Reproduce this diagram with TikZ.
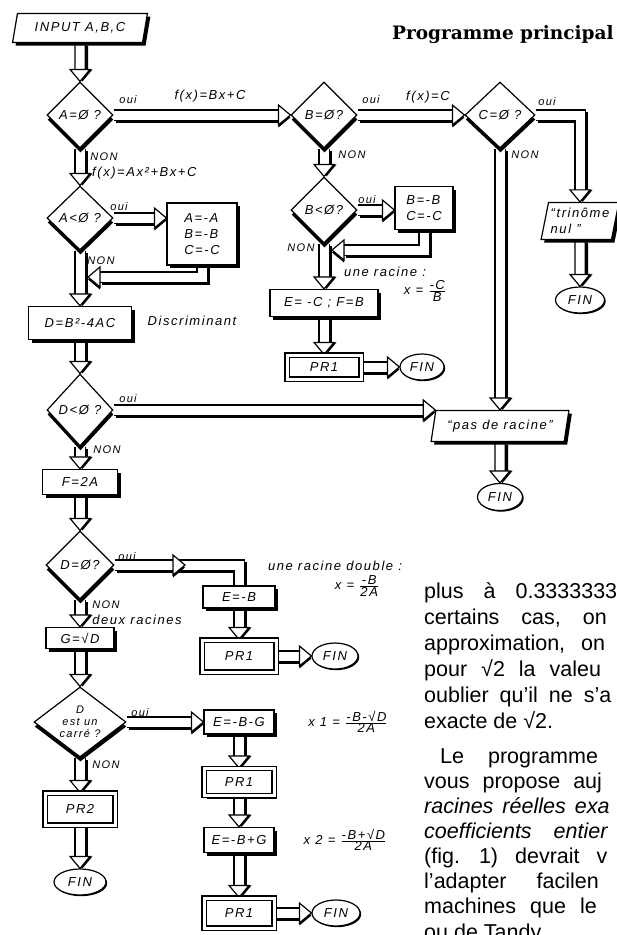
\documentclass[tikz,border=0pt]{standalone}
\usepackage{fontspec}
\newfontfamily\hand[LetterSpace=12]{Liberation Sans}
\newfontfamily\colfont{Liberation Sans}
\newfontfamily\titlefont{DejaVu Serif}
\usetikzlibrary{shapes.geometric,shadows,backgrounds}
% one justified line of the article, with its own word space
\newcommand\jline[2]{{\spaceskip=#1pt\relax #2}}

\tikzset{
  fig/.style={draw, line width=1.2pt, fill=white, font=\hand\itshape\fontsize{13}{16}\selectfont},
  box/.style={fig, inner sep=2pt, drop shadow={shadow xshift=3pt, shadow yshift=-3pt, opacity=1, fill=black}},
  sub/.style={box, double, double distance=3pt},
  test/.style={fig, diamond, inner sep=0pt, drop shadow={shadow xshift=0.5pt, shadow yshift=-4.5pt, opacity=1, fill=black}},
  io/.style={fig, trapezium, trapezium left angle=76, trapezium right angle=104, trapezium stretches=true, inner sep=2pt,
    drop shadow={shadow xshift=3pt, shadow yshift=-3pt, opacity=1, fill=black}},
  fin/.style={fig, ellipse, inner sep=0pt, drop shadow={shadow xshift=1.2pt, shadow yshift=-1.2pt, opacity=1, fill=black}},
  note/.style={inner sep=0pt, font=\hand\itshape\fontsize{13}{16}\selectfont},
  yes/.style={inner sep=0pt, font=\hand\itshape\fontsize{11}{12}\selectfont},
  body/.style={anchor=base west, inner sep=0pt, font=\colfont\fontsize{21.5}{25}\selectfont},
  band/.style={line width=1.2pt, double=white, double distance=9pt, line join=miter,
    preaction={draw=black, double=black, double distance=9pt, line width=1.2pt, transform canvas={shift={(2.5pt,-2.5pt)}}}},
  arr/.style={shorten >=11pt},
  tipd/.pic={\fill (2.5pt,0pt) -- (-7.5pt,12pt) -- (12.5pt,12pt) -- cycle;
    \filldraw[fill=white, line width=1.2pt, line join=miter] (0,0) -- (-10pt,12pt) -- (10pt,12pt) -- cycle;},
  tipr/.pic={\fill (0pt,-2.5pt) -- (-12pt,7.5pt) -- (-12pt,-12.5pt) -- cycle;
    \filldraw[fill=white, line width=1.2pt, line join=miter] (0,0) -- (-12pt,10pt) -- (-12pt,-10pt) -- cycle;},
  tipl/.pic={\fill (0pt,-2.5pt) -- (12pt,7.5pt) -- (12pt,-12.5pt) -- cycle;
    \filldraw[fill=white, line width=1.2pt, line join=miter] (0,0) -- (12pt,10pt) -- (12pt,-10pt) -- cycle;}
}

\begin{document}
\begin{tikzpicture}[x=1pt,y=-1pt]
  \useasboundingbox (0,0) rectangle (617,935);
  \node[anchor=base west, inner sep=0pt, font=\titlefont\bfseries\fontsize{18.5}{22}\selectfont] (title) at (392,39) {Programme principal};

  % main column
  \node[io, minimum width=135, minimum height=29] (in) at (80,28) {INPUT A,B,C};
  \node[test, minimum width=66, minimum height=66] (t1) at (80,115) {A=Ø ?};
  \node[test, minimum width=66, minimum height=64] (t2) at (80,218) {A<Ø ?};
  \node[box, minimum width=70, minimum height=62, align=left] (ab) at (202,234) {A=-A\\B=-B\\C=-C};
  \node[box, minimum width=103, minimum height=33] (db) at (80,323) {D=B²-4AC};
  \node[note] (dn) at (192,321) {Discriminant};
  \node[test, minimum width=66, minimum height=72] (t3) at (80,410) {D<Ø ?};
  \node[box, minimum width=75, minimum height=25] (fb) at (80,482) {F=2A};
  \node[test, minimum width=68, minimum height=68] (t4) at (80,565) {D=Ø?};
  \node[box, minimum width=68, minimum height=21] (gb) at (80,638) {G=√D};
  \node[test, minimum width=92, minimum height=70, aspect=1.3, align=center, font=\hand\itshape\fontsize{11}{12}\selectfont] (t5) at (80,722) {D\\est un\\carré ?};
  \node[sub, minimum width=70, minimum height=32] (p2) at (80,809) {PR2};
  \node[fin, minimum width=52, minimum height=26] (f4) at (80,882) {FIN};

  % roots column
  \node[box, minimum width=72, minimum height=22] (eb) at (239,597) {E=-B};
  \node[sub, minimum width=74, minimum height=32] (p1) at (239,656) {PR1};
  \node[fin, minimum width=46, minimum height=26] (f2) at (335,656) {FIN};
  \node[box, minimum width=70, minimum height=24] (e1) at (239,722) {E=-B-G};
  \node[sub, minimum width=70, minimum height=27] (p3) at (239,782) {PR1};
  \node[box, minimum width=70, minimum height=25] (e2) at (239,840) {E=-B+G};
  \node[sub, minimum width=70, minimum height=30] (p4) at (239,913) {PR1};
  \node[fin, minimum width=48, minimum height=26] (f3) at (336,913) {FIN};

  % B column
  \node[test, minimum width=66, minimum height=66] (tb1) at (324,115) {B=Ø?};
  \node[test, minimum width=66, minimum height=66] (tb2) at (324,210) {B<Ø?};
  \node[box, minimum width=58, minimum height=43, align=left] (bb) at (424,208) {B=-B\\C=-C};
  \node[box, minimum width=108, minimum height=27] (ec) at (324,303) {E= -C ; F=B};
  \node[sub, minimum width=74, minimum height=24] (p5) at (324,367) {PR1};
  \node[fin, minimum width=44, minimum height=26] (f1) at (422,367) {FIN};

  % C column
  \node[test, minimum width=70, minimum height=66] (tc) at (500,115) {C=Ø ?};
  \node[io, minimum width=78, minimum height=37, align=left] (tn) at (580,221) {“trinôme\\nul ”};
  \node[fin, minimum width=49, minimum height=26] (f5) at (580,300) {FIN};
  \node[io, minimum width=138, minimum height=31] (pr) at (500,426) {“pas de racine”};
  \node[fin, minimum width=45, minimum height=27] (f6) at (500,497) {FIN};

  \coordinate (r1) at (88,277);
  \coordinate (r2) at (332,250);
  \coordinate (m4) at (185,565);

  % labels
  \node[yes] at (128,100) {oui};
  \node[note] at (210,96) {f(x)=Bx+C};
  \node[yes] at (104,157) {NON};
  \node[note, anchor=west] at (92,173) {f(x)=Ax²+Bx+C};
  \node[yes] at (119,207) {oui};
  \node[yes] at (101,261) {NON};
  \node[yes] at (128,399) {oui};
  \node[yes] at (107,450) {NON};
  \node[yes] at (127,557) {oui};
  \node[yes] at (106,605) {NON};
  \node[note] at (137,620) {deux racines};
  \node[note] at (335,566) {une racine double :};
  \node[note] at (357,586) {x = $\frac{\hbox{-B}}{\hbox{2A}}$};
  \node[yes] at (140,713) {oui};
  \node[yes] at (106,765) {NON};
  \node[note] at (348,722) {x 1 = $\frac{\hbox{-B-√D}}{\hbox{2A}}$};
  \node[note] at (345,840) {x 2 = $\frac{\hbox{-B+√D}}{\hbox{2A}}$};
  \node[yes] at (371,100) {oui};
  \node[note] at (428,97) {f(x)=C};
  \node[yes] at (352,155) {NON};
  \node[yes] at (367,200) {oui};
  \node[yes] at (301,248) {NON};
  \node[note] at (385,272) {une racine :};
  \node[note] at (425,291) {x = $\frac{\hbox{-C}}{\hbox{B}}$};
  \node[yes] at (547,102) {oui};
  \node[yes] at (525,155) {NON};

  % article text
  \node[body] at (424,598) {\jline{20}{plus à 0.3333333}};
  \node[body] at (424,624) {\jline{22}{certains cas, on}};
  \node[body] at (424,650) {\jline{16}{approximation, on}};
  \node[body] at (424,676) {\jline{14}{pour √2 la valeu}};
  \node[body] at (424,702) {\jline{11}{oublier qu’il ne s’a}};
  \node[body] at (424,728) {exacte de √2.};
  \node[body] at (440,763) {\jline{24}{Le programme}};
  \node[body] at (424,788) {\jline{13}{vous propose auj}};
  \node[body] at (424,813) {\jline{9}{\itshape racines réelles exa}};
  \node[body] at (424,838) {\jline{22}{\itshape coefficients entier}};
  \node[body] at (424,863) {\jline{17}{(fig. 1) devrait v}};
  \node[body] at (424,888) {\jline{30}{l’adapter facilen}};
  \node[body] at (424,913) {\jline{14}{machines que le}};
  \node[body] at (424,939) {ou de Tandy};

  \begin{pgfonlayer}{background}
    \draw[band,arr] (in) -- (t1.north);
    \draw[band,arr] (t1) -- (t2.north);
    \draw[band,arr] (t1) -- (tb1.west);
    \draw[band,arr] (t2) -- (ab.west |- t2);
    \draw[band,arr] (t2) -- (db.north);
    \draw[band,arr] (ab) |- (r1);
    \draw[band,arr] (db) -- (t3.north);
    \draw[band,arr] (t3) -- (pr.top left corner |- t3);
    \draw[band,arr] (t3) -- (fb.north);
    \draw[band,arr] (fb) -- (t4.north);
    \draw[band] (t4) -| (eb);
    \draw[band,arr] (t4) -- (gb.north);
    \draw[band,arr] (gb) -- (t5.north);
    \draw[band,arr] (t5) -- (p2.north);
    \draw[band,arr] (p2) -- (f4.north);
    \draw[band,arr] (t5) -- (e1.west);
    \draw[band,arr] (eb) -- (p1.north);
    \draw[band,arr] (p1) -- (f2.west);
    \draw[band,arr] (e1) -- (p3.north);
    \draw[band,arr] (p3) -- (e2.north);
    \draw[band,arr] (e2) -- (p4.north);
    \draw[band,arr] (p4) -- (f3.west);
    \draw[band,arr] (tb1) -- (tb2.north);
    \draw[band,arr] (tb1) -- (tc.west);
    \draw[band,arr] (tb2) -- (bb.west |- tb2);
    \draw[band,arr] (tb2) -- (ec.north);
    \draw[band,arr] (bb) |- (r2);
    \draw[band,arr] (ec) -- (p5.north);
    \draw[band,arr] (p5) -- (f1.west);
    \draw[band,arr] (tc) -| (tn.north);
    \draw[band,arr] (tn) -- (f5.north);
    \draw[band,arr] (tc) -- (tc |- pr.north);
    \draw[band,arr] (pr) -- (f6.north);
    % arrow heads
    \foreach \n in {t1,t2,db,t3,fb,t4,gb,t5,p2,f4,p1,p3,e2,p4,tb2,ec,p5,tn,f5,f6}
      \pic at (\n.north) {tipd};
    \pic at (tc |- pr.north) {tipd};
    \foreach \n in {tb1,e1,f2,f3,f1,tc}
      \pic at (\n.west) {tipr};
    \pic at (ab.west |- t2) {tipr};
    \pic at (bb.west |- tb2) {tipr};
    \pic at (pr.top left corner |- t3) {tipr};
    \pic at (m4) {tipr};
    \pic at (r1) {tipl};
    \pic at (r2) {tipl};
  \end{pgfonlayer}
\end{tikzpicture}
\end{document}
